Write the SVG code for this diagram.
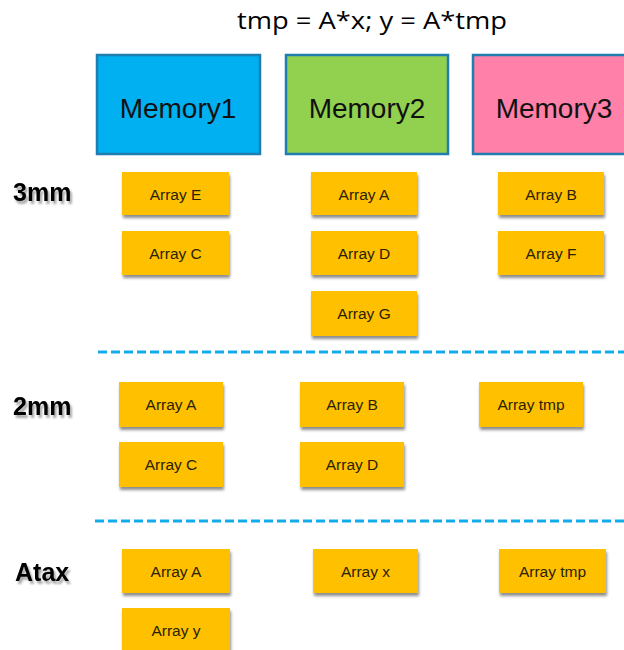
<svg xmlns="http://www.w3.org/2000/svg" width="624" height="650" viewBox="0 0 624 650">
  <defs>
    <filter id="boxShadow" x="-10%" y="-10%" width="125%" height="140%">
      <feGaussianBlur in="SourceAlpha" stdDeviation="1.5"/>
      <feOffset dx="1" dy="3" result="b"/>
      <feComponentTransfer><feFuncA type="linear" slope="0.45"/></feComponentTransfer>
      <feMerge><feMergeNode/><feMergeNode in="SourceGraphic"/></feMerge>
    </filter>
    <filter id="textShadow" x="-10%" y="-20%" width="130%" height="160%">
      <feGaussianBlur in="SourceAlpha" stdDeviation="1.2"/>
      <feOffset dx="1.5" dy="2.5" result="b"/>
      <feComponentTransfer><feFuncA type="linear" slope="0.35"/></feComponentTransfer>
      <feMerge><feMergeNode/><feMergeNode in="SourceGraphic"/></feMerge>
    </filter>
    <style>
      .title { font-family: "Open Sans", "Noto Sans", sans-serif; font-size: 23px; fill: #000; }
      .mem rect { stroke: #1F7DB0; stroke-width: 2.5; }
      .mem text { font-family: "Liberation Sans", Arial, sans-serif; font-size: 28px; fill: #111; text-anchor: middle; }
      .arr rect { fill: #FFC000; filter: url(#boxShadow); }
      .arr text { font-family: "Liberation Sans", Arial, sans-serif; font-size: 15.5px; fill: #2a2200; text-anchor: middle; }
      .lbl { font-family: "Liberation Sans", Arial, sans-serif; font-weight: bold; font-size: 25px; fill: #000; filter: url(#textShadow); }
      .sep { stroke: #12ABEB; stroke-width: 3; stroke-dasharray: 9 4; fill: none; }
    </style>
  </defs>

  <rect width="624" height="650" fill="#ffffff"/>

  <text class="title" x="372" y="29" text-anchor="middle" textLength="270" lengthAdjust="spacingAndGlyphs">tmp = A*x; y = A*tmp</text>

  <!-- memory banks -->
  <g id="memory1" class="mem"><rect x="97" y="55" width="163" height="99" fill="#00B0F0"/><text x="178" y="118">Memory1</text></g>
  <g id="memory2" class="mem"><rect x="286" y="55" width="162" height="99" fill="#92D050"/><text x="367" y="118">Memory2</text></g>
  <g id="memory3" class="mem"><rect x="473" y="55" width="162" height="99" fill="#FF80A8"/><text x="554" y="118">Memory3</text></g>

  <!-- benchmark labels -->
  <text class="lbl" x="13" y="201">3mm</text>
  <text class="lbl" x="13" y="415">2mm</text>
  <text class="lbl" x="15" y="581">Atax</text>

  <!-- section separators -->
  <g id="connectors">
    <line class="sep" x1="98" y1="352" x2="624" y2="352"/>
    <line class="sep" x1="95" y1="521" x2="624" y2="521"/>
  </g>

  <!-- 3mm -->
  <g id="mm3-arrayE" class="arr"><rect x="122" y="172" width="107" height="43"/><text x="175.5" y="199.5">Array E</text></g>
  <g id="mm3-arrayC" class="arr"><rect x="122" y="231" width="107" height="44"/><text x="175.5" y="259">Array C</text></g>
  <g id="mm3-arrayA" class="arr"><rect x="311" y="172" width="106" height="43"/><text x="364" y="199.5">Array A</text></g>
  <g id="mm3-arrayD" class="arr"><rect x="311" y="231" width="106" height="44"/><text x="364" y="259">Array D</text></g>
  <g id="mm3-arrayG" class="arr"><rect x="311" y="291" width="106" height="45"/><text x="364" y="319">Array G</text></g>
  <g id="mm3-arrayB" class="arr"><rect x="498" y="172" width="106" height="43"/><text x="551" y="199.5">Array B</text></g>
  <g id="mm3-arrayF" class="arr"><rect x="498" y="231" width="106" height="44"/><text x="551" y="259">Array F</text></g>

  <!-- 2mm -->
  <g id="mm2-arrayA" class="arr"><rect x="119" y="382" width="104" height="45"/><text x="171" y="410">Array A</text></g>
  <g id="mm2-arrayC" class="arr"><rect x="119" y="442" width="104" height="45"/><text x="171" y="470">Array C</text></g>
  <g id="mm2-arrayB" class="arr"><rect x="300" y="382" width="104" height="45"/><text x="352" y="410">Array B</text></g>
  <g id="mm2-arrayD" class="arr"><rect x="300" y="442" width="104" height="45"/><text x="352" y="470">Array D</text></g>
  <g id="mm2-arrayTmp" class="arr"><rect x="479" y="382" width="104" height="45"/><text x="531" y="410">Array tmp</text></g>

  <!-- atax -->
  <g id="atax-arrayA" class="arr"><rect x="122" y="549" width="108" height="44"/><text x="176" y="577">Array A</text></g>
  <g id="atax-arrayY" class="arr"><rect x="122" y="608" width="108" height="44"/><text x="176" y="636">Array y</text></g>
  <g id="atax-arrayX" class="arr"><rect x="313" y="549" width="105" height="44"/><text x="365.5" y="577">Array x</text></g>
  <g id="atax-arrayTmp" class="arr"><rect x="499" y="549" width="107" height="44"/><text x="552.5" y="577">Array tmp</text></g>
</svg>
